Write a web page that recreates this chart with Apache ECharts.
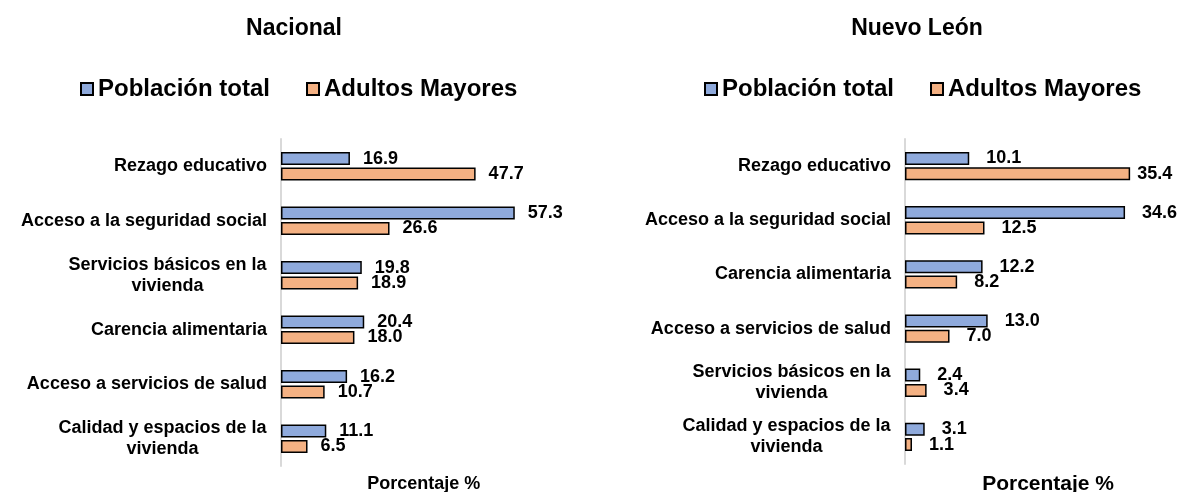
<!DOCTYPE html>
<html>
<head>
<meta charset="utf-8">
<script src="https://cdn.jsdelivr.net/npm/echarts@6/dist/echarts.min.js"></script>
<style>
  html, body { margin: 0; padding: 0; background: #fff; }
  #chart { width: 1182px; height: 492px; }
</style>
</head>
<body>
<div id="chart"></div>
<script>
// Nacional
const catsNacional = ['Rezago educativo', 'Acceso a la seguridad social', 'Servicios básicos en la\nvivienda',
  'Carencia alimentaria', 'Acceso a servicios de salud', 'Calidad y espacios de la\nvivienda']
const totalNacional = [16.9, 57.3, 19.8, 20.4, 16.2, 11.1]
const mayoresNacional = [47.7, 26.6, 18.9, 18.0, 10.7, 6.5]
// Nuevo León
const catsNL = ['Rezago educativo', 'Acceso a la seguridad social', 'Carencia alimentaria',
  'Acceso a servicios de salud', 'Servicios básicos en la\nvivienda', 'Calidad y espacios de la\nvivienda']
const totalNL = [10.1, 34.6, 12.2, 13.0, 2.4, 3.1]
const mayoresNL = [35.4, 12.5, 8.2, 7.0, 3.4, 1.1]

const seriesNames = ['Población total', 'Adultos Mayores']
const colors = ['#8faadc', '#f4b183']
const font = 'Liberation Sans, Arial, sans-serif'

// ancho de cada linea para centrar las etiquetas de dos lineas
const ctx = document.createElement('canvas').getContext('2d')
ctx.font = 'bold 18px ' + font
const rich = {}
function catLabel(v) {
  if (v.indexOf('\n') < 0) return v
  const lines = v.split('\n')
  const key = 'w' + Math.ceil(Math.max(...lines.map(l => ctx.measureText(l).width)))
  rich[key] = { width: +key.slice(1), align: 'center', fontSize: 18, fontWeight: 'bold', fontFamily: font, color: '#000', lineHeight: 21 }
  return lines.map(l => '{' + key + '|' + l + '}').join('\n')
}
catsNacional.concat(catsNL).forEach(catLabel)

const chart = echarts.init(document.getElementById('chart'))

function yAxis(idx, data) {
  return {
    type: 'category', gridIndex: idx, data, inverse: true,
    axisLine: { show: true, lineStyle: { color: '#d9d9d9', width: 2 } },
    axisTick: { show: false },
    axisLabel: {
      margin: 14, align: 'right', color: '#000', fontSize: 18, fontWeight: 'bold',
      fontFamily: font, lineHeight: 21, formatter: catLabel, rich
    }
  }
}
function xAxis(idx, max, nameSize, gap) {
  return {
    type: 'value', gridIndex: idx, min: 0, max,
    axisLine: { show: false }, axisTick: { show: false }, axisLabel: { show: false },
    splitLine: { show: false },
    name: 'Porcentaje %', nameLocation: 'middle', nameGap: gap,
    nameTextStyle: { color: '#000', fontSize: nameSize, fontWeight: 'bold', fontFamily: font }
  }
}
function bar(name, idx, values, color, dist, farDist) {
  const maxV = Math.max(...values)
  return {
    name, type: 'bar', xAxisIndex: idx, yAxisIndex: idx,
    barWidth: 13, barGap: '18%',
    itemStyle: { color, borderColor: '#000', borderWidth: 1.5 },
    data: values.map(v => v === maxV && farDist ? { value: v, label: { distance: farDist } } : v),
    label: {
      show: true, position: 'right', distance: dist, color: '#000', fontSize: 18,
      fontWeight: 'bold', fontFamily: font, formatter: p => p.value.toFixed(1)
    }
  }
}
const legendText = { color: '#000', fontSize: 24, fontWeight: 'bold', fontFamily: font }
const titleText = { color: '#000', fontSize: 23, fontWeight: 'bold', fontFamily: font }
const legendItem = { icon: 'rect', top: 72, itemWidth: 12, itemHeight: 12, itemGap: 36, textStyle: legendText, data: seriesNames }

chart.setOption({
  animation: false,
  title: [
    { text: 'Nacional', left: 289, top: 12, textAlign: 'center', textStyle: titleText },
    { text: 'Nuevo León', left: 912, top: 12, textAlign: 'center', textStyle: titleText }
  ],
  legend: [
    Object.assign({ left: 75 }, legendItem),
    Object.assign({ left: 699 }, legendItem)
  ],
  grid: [
    { left: 281, top: 139, width: 285.6, height: 327, outerBoundsMode: 'none' },
    { left: 905, top: 139, width: 286.2, height: 325, outerBoundsMode: 'none' }
  ],
  xAxis: [xAxis(0, 70, 18, 9), xAxis(1, 45, 21, 10)],
  yAxis: [yAxis(0, catsNacional), yAxis(1, catsNL)],
  series: [
    bar(seriesNames[0], 0, totalNacional, colors[0], 13),
    bar(seriesNames[1], 0, mayoresNacional, colors[1], 13),
    bar(seriesNames[0], 1, totalNL, colors[0], 17),
    bar(seriesNames[1], 1, mayoresNL, colors[1], 17, 7)
  ]
})
</script>
</body>
</html>
